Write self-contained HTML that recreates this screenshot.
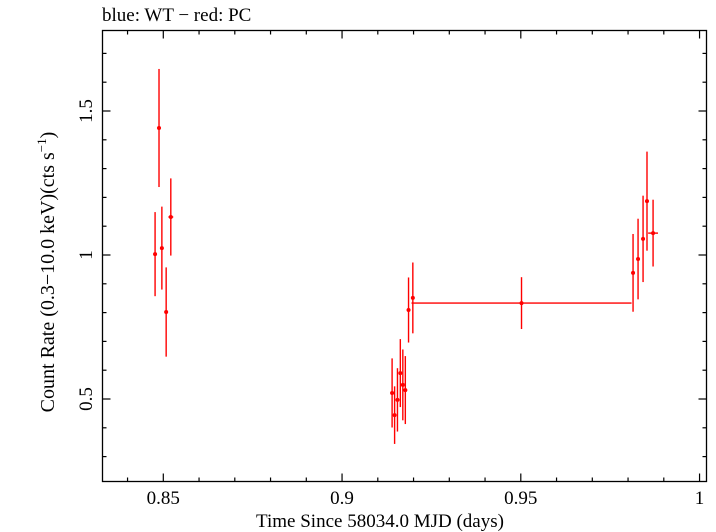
<!DOCTYPE html>
<html><head><meta charset="utf-8"><style>
body{margin:0;background:#fff}
svg{display:block;font-family:"Liberation Serif",serif}
</style></head><body>
<svg id="chart" width="716" height="532" viewBox="0 0 716 532">
<text x="102" y="21" font-size="19">blue: WT − red: PC</text>
<rect x="102.5" y="30.5" width="604" height="451" fill="none" stroke="#000" stroke-width="1.3"/>
<g id="ticks"></g>
<g id="marks"></g>
<text x="380" y="527" font-size="19" text-anchor="middle">Time Since 58034.0 MJD (days)</text>
<text transform="translate(54,272) rotate(-90)" font-size="20" text-anchor="middle">Count Rate (0.3−10.0 keV)(cts s<tspan dy="-8" font-size="13">−1</tspan><tspan dy="8">)</tspan></text>
</svg>
<script>
const xVals=[0.8477,0.8488,0.8496,0.8508,0.8521,0.9140,0.9147,0.9155,0.9163,0.9170,0.9177,0.9186,0.9198,0.9502,0.9814,0.9828,0.9842,0.9853,0.9870];
const xErr=[0.0002,0.0002,0.0002,0.0002,0.0004,0.0002,0.0002,0.0002,0.0002,0.0002,0.0002,0.0002,0.0002,0.0305,0.0002,0.0002,0.0002,0.0002,0.0011];
const yVals=[1.003,1.441,1.024,0.802,1.132,0.521,0.444,0.497,0.590,0.549,0.531,0.809,0.851,0.833,0.938,0.986,1.056,1.187,1.076];
const yErr=[0.146,0.205,0.144,0.155,0.134,0.120,0.100,0.110,0.118,0.123,0.118,0.113,0.123,0.090,0.135,0.140,0.150,0.172,0.116];
const xTicks=[0.85,0.9,0.95,1];
const xTickLabels=["0.85","0.9","0.95","1"];
const yTicks=[0.5,1,1.5];
const yTickLabels=["0.5","1","1.5"];
const L=102.5,R=706.5,T=30.5,B=481.5;
const X=v=>163.3+(v-0.85)*3575;
const Y=v=>255-(v-1)*288;
const NS="http://www.w3.org/2000/svg";
function mk(p,tag,a){const e=document.createElementNS(NS,tag);for(const k in a)e.setAttribute(k,a[k]);p.appendChild(e);return e;}
const tg=document.getElementById('ticks');
for(let i=0;i<=20;i++){const v=0.83+i*0.01;const x=X(v);if(x<L||x>R)continue;
 const maj=Math.abs(v*20-Math.round(v*20))<1e-6;const len=maj?8:4;
 const t1=mk(tg,'line',{x1:x,x2:x,y1:B,y2:B-len,stroke:'#000','stroke-width':1.2});
 
 mk(tg,'line',{x1:x,x2:x,y1:T,y2:T+len,stroke:'#000','stroke-width':1.2});}
for(let i=0;i<=20;i++){const v=0.2+i*0.1;const y=Y(v);if(y<T||y>B)continue;
 const maj=Math.abs(v*2-Math.round(v*2))<1e-6;const len=maj?8:4;
 const t2=mk(tg,'line',{x1:L,x2:L+len,y1:y,y2:y,stroke:'#000','stroke-width':1.2});
 
 mk(tg,'line',{x1:R,x2:R-len,y1:y,y2:y,stroke:'#000','stroke-width':1.2});}
xTicks.forEach((v,i)=>{const t=mk(tg,'text',{x:X(v),y:504,'font-size':19,'text-anchor':'middle'});t.textContent=xTickLabels[i];
 });
yTicks.forEach((v,i)=>{const t=mk(tg,'text',{transform:`translate(92,${Y(v)}) rotate(-90)`,'font-size':19,'text-anchor':'middle'});t.textContent=yTickLabels[i];
 });
const mg=document.getElementById('marks');
xVals.forEach((xv,i)=>{const g=mk(mg,'g',{stroke:'#f00','stroke-width':1.4});
 
 const x=X(xv),y=Y(yVals[i]);
 mk(g,'line',{x1:x,x2:x,y1:Y(yVals[i]+yErr[i]),y2:Y(yVals[i]-yErr[i])});
 mk(g,'line',{x1:X(xv-xErr[i])-1,x2:X(xv+xErr[i])+1,y1:y,y2:y});
 mk(g,'circle',{cx:x,cy:y,r:2,fill:'#f00',stroke:'none'});});
</script>
</body></html>
